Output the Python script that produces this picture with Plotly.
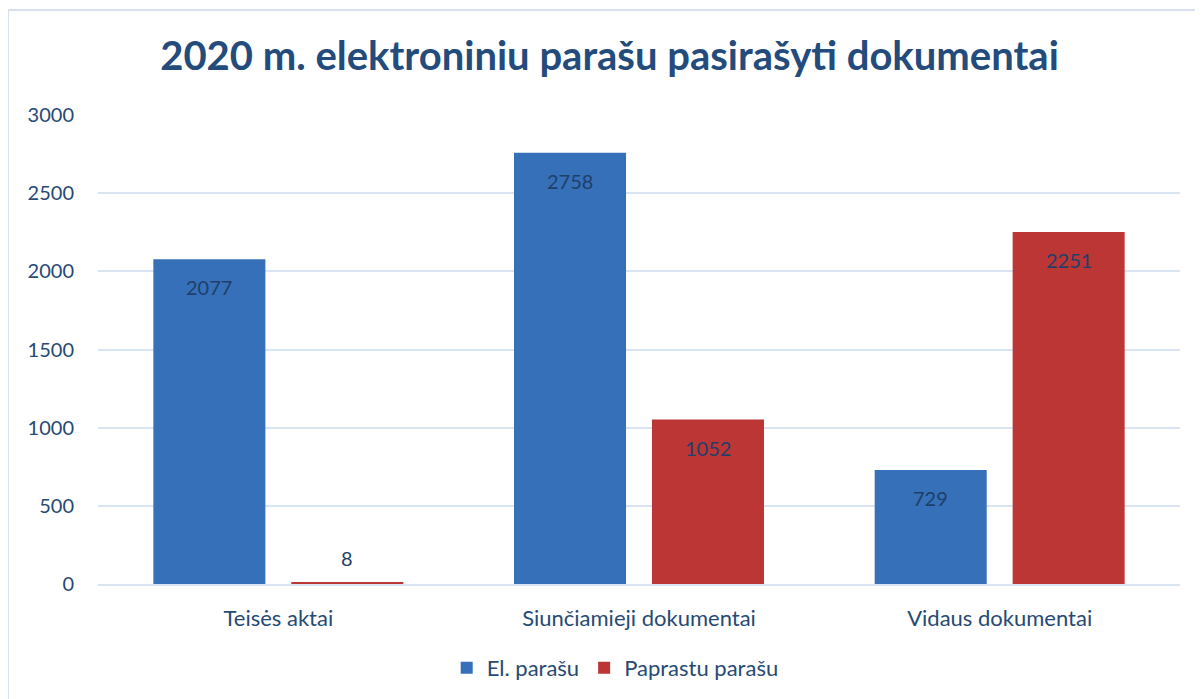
import plotly.graph_objects as go

categories = ["Teisės aktai", "Siunčiamieji dokumentai", "Vidaus dokumentai"]
el_parasu = [2077, 2758, 729]
paprastu_parasu = [8, 1052, 2251]
series_names = ["El. parašu", "Paprastu parašu"]
y_ticks = [0, 500, 1000, 1500, 2000, 2500, 3000]

FONT = "Lato"
TEXT_COLOR = "#264a74"
LABEL_COLOR = "#1f3f6b"

W, H = 1203, 699
ML, MR, MT, MB = 90, 31, 107, 123
BARGAP, BARGROUPGAP = 0.235, 0.188

fig = go.Figure()
fig.add_trace(go.Bar(
    x=categories, y=el_parasu, name=series_names[0],
    marker=dict(color="#3570b8", line=dict(width=0)),
))
fig.add_trace(go.Bar(
    x=categories, y=paprastu_parasu, name=series_names[1],
    marker=dict(color="#bb3634", line=dict(width=0)),
))

# data labels as annotations (to match placement)
plot_w = W - ML - MR
slot = plot_w / len(categories) * (1 - BARGAP) / 2
annotations = []
for si, series in enumerate([el_parasu, paprastu_parasu]):
    xs = (si - 0.5) * slot
    for cat, v in zip(categories, series):
        inside = v > 150
        annotations.append(dict(
            x=cat, y=v, xref="x", yref="y", text=str(v), showarrow=False,
            xshift=xs, yshift=-28 if inside else 25,
            font=dict(family=FONT, size=20, color=LABEL_COLOR),
        ))

fig.update_layout(
    width=W, height=H,
    margin=dict(l=ML, r=MR, t=MT, b=MB, autoexpand=False),
    paper_bgcolor="white", plot_bgcolor="white",
    barmode="group", bargap=BARGAP, bargroupgap=BARGROUPGAP,
    title=dict(text="<b>2020 m. elektroniniu parašu pasirašyti dokumentai</b>",
               x=0.5, xanchor="center", y=0.932, yanchor="middle",
               font=dict(family=FONT, size=40, color="#234b7b")),
    legend=dict(orientation="h", x=0.478, xanchor="center", y=-0.179, yanchor="middle",
                font=dict(family=FONT, size=22, color=TEXT_COLOR),
                itemwidth=30, traceorder="normal"),
    font=dict(family=FONT, color=TEXT_COLOR),
    annotations=annotations,
    shapes=[dict(type="rect", xref="paper", yref="paper",
                 x0=-0.0832, y0=-0.4, x1=1.1, y1=1.224,
                 line=dict(color="#d6e0ef", width=2), layer="below")],
)
fig.update_yaxes(range=[0, 3000], tickvals=y_ticks, showgrid=True,
                 gridcolor="#d9e4f2", gridwidth=2, zeroline=False,
                 showline=False, ticks="", ticklen=0, ticklabelstandoff=23,
                 tickfont=dict(family=FONT, size=20, color=TEXT_COLOR))
fig.update_xaxes(showline=True, linecolor="#d9e4f2", linewidth=2, ticks="",
                 ticklabelstandoff=14,
                 tickfont=dict(family=FONT, size=22, color=TEXT_COLOR))

fig.write_html("out.html")
